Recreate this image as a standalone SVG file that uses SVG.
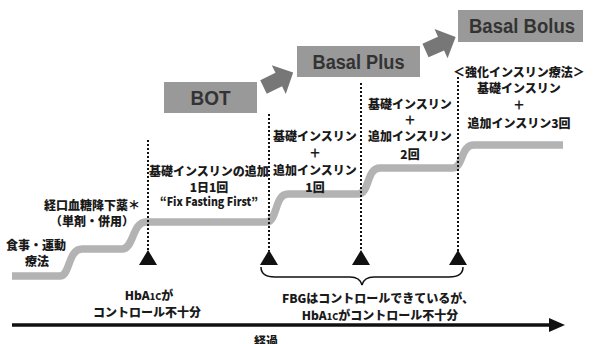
<svg xmlns="http://www.w3.org/2000/svg" width="594" height="344" viewBox="0 0 594 344">
<style>
.t{font-family:"Noto Sans CJK JP","Noto Sans",sans-serif;font-weight:900;font-size:12px;fill:#1a1a1a;text-anchor:middle}
.box{fill:#999}
.bt{font-family:"Liberation Sans",Arial,sans-serif;font-weight:bold;fill:#333;text-anchor:middle}
.arr{fill:#777}
.dot{stroke:#111;stroke-width:2;stroke-dasharray:2 2;fill:none}
.tri{fill:#111}
.sm{font-size:9px}
</style>
<defs>
<path id="blk" d="M0 -7.5 H17 V-16 L33 0 L17 16 V7.5 H0 Z"/>
</defs>
<rect width="594" height="344" fill="#fff"/>
<g id="connectors">
<path d="M12 276 H60 C70 276 68 249 82 249 H122 C134 249 132 222 146 222 H266 C278 222 274 194 288 194 H358 C370 194 366 168 380 168 H452 C464 168 460 145 474 145 H563" fill="none" stroke="#b3b3b3" stroke-width="7.5"/>
<line class="dot" x1="148" y1="140" x2="148" y2="251"/>
<line class="dot" x1="269" y1="114" x2="269" y2="251"/>
<line class="dot" x1="361" y1="83" x2="361" y2="251"/>
<line class="dot" x1="458" y1="77" x2="458" y2="251"/>
<polygon class="tri" points="148,250 139,265 157,265"/>
<polygon class="tri" points="269,250 260,265 278,265"/>
<polygon class="tri" points="361,250 352,265 370,265"/>
<polygon class="tri" points="458,250 449,265 467,265"/>
<path d="M261 267 Q261 277 275 277 H350 Q360 277 362 285 Q364 277 374 277 H449 Q463 277 463 267" fill="none" stroke="#111" stroke-width="1.5"/>
<use href="#blk" class="arr" transform="translate(263.5 87) rotate(-26)"/>
<use href="#blk" class="arr" transform="translate(425.5 50.5) rotate(-24)"/>
<line x1="12" y1="325" x2="552" y2="325" stroke="#111" stroke-width="3.5"/>
<polygon points="549,318 565,325 549,332" fill="#111"/>
</g>
<g id="bot">
<rect class="box" x="164" y="82" width="93" height="31"/>
<text class="bt" x="210.5" y="105" font-size="21" textLength="40" lengthAdjust="spacingAndGlyphs">BOT</text>
</g>
<g id="basalplus">
<rect class="box" x="297" y="46" width="123" height="31"/>
<text class="bt" x="358.5" y="69" font-size="20" textLength="92" lengthAdjust="spacingAndGlyphs">Basal Plus</text>
</g>
<g id="basalbolus">
<rect class="box" x="458" y="10" width="125" height="32"/>
<text class="bt" x="522" y="33" font-size="20" textLength="106" lengthAdjust="spacingAndGlyphs">Basal Bolus</text>
</g>
<g id="diet">
<text class="t" x="36" y="250">食事・運動</text>
<text class="t" x="37" y="266">療法</text>
</g>
<g id="oral">
<text class="t" x="92" y="210">経口血糖降下薬＊</text>
<text class="t" x="92" y="226">（単剤・併用）</text>
</g>
<g id="col1">
<text class="t" x="209" y="176">基礎インスリンの追加</text>
<text class="t" x="209" y="192">1日1回</text>
<text class="t" x="209" y="206" font-family="Liberation Sans" font-weight="bold" textLength="98" lengthAdjust="spacingAndGlyphs">“Fix Fasting First”</text>
</g>
<g id="col2">
<text class="t" x="315" y="141">基礎インスリン</text>
<text class="t" x="315" y="158">＋</text>
<text class="t" x="315" y="175">追加インスリン</text>
<text class="t" x="315" y="192">1回</text>
</g>
<g id="col3">
<text class="t" x="410" y="109">基礎インスリン</text>
<text class="t" x="410" y="125">＋</text>
<text class="t" x="410" y="141">追加インスリン</text>
<text class="t" x="410" y="159">2回</text>
</g>
<g id="col4">
<text class="t" x="519" y="77">＜強化インスリン療法＞</text>
<text class="t" x="519" y="93">基礎インスリン</text>
<text class="t" x="519" y="110">＋</text>
<text class="t" x="519" y="128">追加インスリン3回</text>
</g>
<g id="hba1">
<text class="t" x="149" y="300">HbA<tspan class="sm">1C</tspan>が</text>
<text class="t" x="147" y="317">コントロール不十分</text>
</g>
<g id="fbg">
<text class="t" x="378" y="303">FBGはコントロールできているが、</text>
<text class="t" x="380" y="320">HbA<tspan class="sm">1C</tspan>がコントロール不十分</text>
</g>
<g id="time">
<text class="t" x="266" y="346" font-size="14">経過</text>
</g>
</svg>
